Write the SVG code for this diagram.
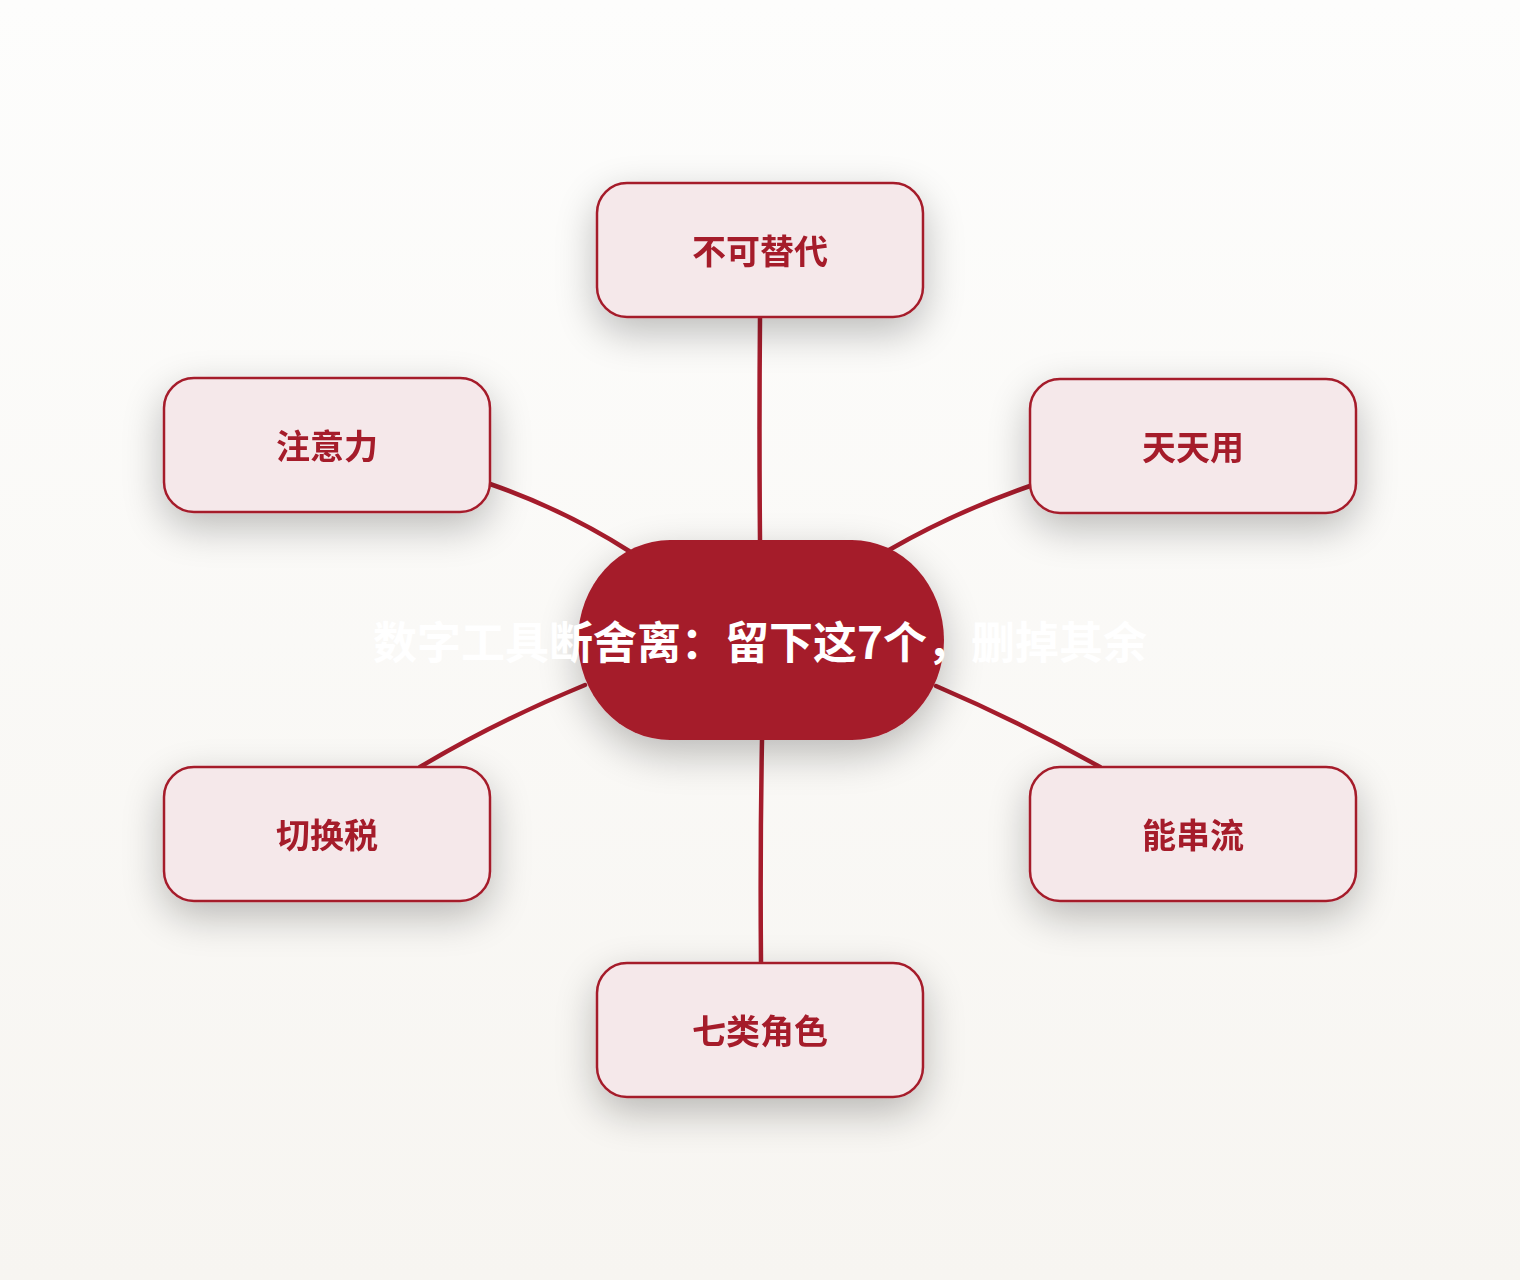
<svg xmlns="http://www.w3.org/2000/svg" width="1520" height="1280" viewBox="0 0 1520 1280">
  <defs>
    <linearGradient id="bg" x1="0" y1="0" x2="0" y2="1">
      <stop offset="0" stop-color="#fdfdfc"/>
      <stop offset="1" stop-color="#f7f5f1"/>
    </linearGradient>
    <filter id="shadow" x="-40%" y="-50%" width="180%" height="210%">
      <feGaussianBlur in="SourceAlpha" stdDeviation="20"/>
      <feOffset dx="0" dy="14" result="b"/>
      <feComponentTransfer><feFuncA type="linear" slope="0.26"/></feComponentTransfer>
      <feMerge><feMergeNode/><feMergeNode in="SourceGraphic"/></feMerge>
    </filter>
    <style>
      .node rect { fill: #f5e8ea; stroke: #a51c2c; stroke-width: 2.5; }
      .node text { fill: #a51c2c; font-family: "Noto Sans CJK SC", "Noto Sans", sans-serif; font-weight: 700; font-size: 34px; text-anchor: middle; }
      .edge { fill: none; stroke: #a51c2c; stroke-width: 4.5; stroke-linecap: round; }
      .center-text { fill: #ffffff; font-family: "Noto Sans CJK SC", "Noto Sans", sans-serif; font-weight: 700; font-size: 44px; text-anchor: middle; }
    </style>
  </defs>
  <rect x="0" y="0" width="1520" height="1280" fill="url(#bg)"/>

  <g id="connectors">
    <path class="edge" d="M760,317 Q759,430 760,540"/>
    <path class="edge" d="M1030,486 Q955,512 889,550"/>
    <path class="edge" d="M490,484 Q565,510 629,551"/>
    <path class="edge" d="M585,685 Q495,722 420,767"/>
    <path class="edge" d="M936,686 Q1020,722 1100,767"/>
    <path class="edge" d="M762,740 Q760,850 761,963"/>
  </g>

  <g id="node-center" filter="url(#shadow)">
    <rect x="578" y="540" width="366" height="200" rx="92" ry="100" fill="#a51c2c"/>
  </g>
  <g id="node-center-label">
    <text class="center-text" x="760" y="659">数字工具断舍离：留下这7个，删掉其余</text>
  </g>

  <g id="node-top" class="node" filter="url(#shadow)">
    <rect x="597" y="183" width="326" height="134" rx="30"/>
    <text x="760" y="264">不可替代</text>
  </g>
  <g id="node-left-top" class="node" filter="url(#shadow)">
    <rect x="164" y="378" width="326" height="134" rx="30"/>
    <text x="327" y="459">注意力</text>
  </g>
  <g id="node-right-top" class="node" filter="url(#shadow)">
    <rect x="1030" y="379" width="326" height="134" rx="30"/>
    <text x="1193" y="460">天天用</text>
  </g>
  <g id="node-left-bottom" class="node" filter="url(#shadow)">
    <rect x="164" y="767" width="326" height="134" rx="30"/>
    <text x="327" y="848">切换税</text>
  </g>
  <g id="node-right-bottom" class="node" filter="url(#shadow)">
    <rect x="1030" y="767" width="326" height="134" rx="30"/>
    <text x="1193" y="848">能串流</text>
  </g>
  <g id="node-bottom" class="node" filter="url(#shadow)">
    <rect x="597" y="963" width="326" height="134" rx="30"/>
    <text x="760" y="1044">七类角色</text>
  </g>
</svg>
